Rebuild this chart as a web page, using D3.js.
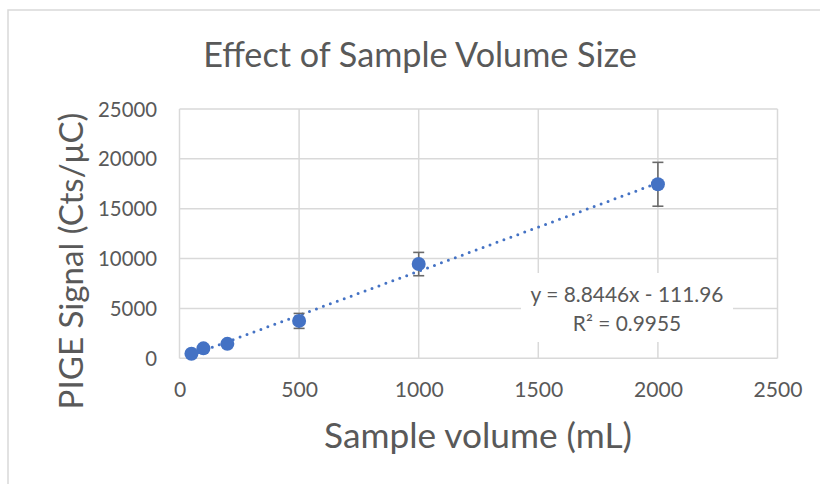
<!DOCTYPE html>
<html>
<head>
<meta charset="utf-8">
<script src="https://cdn.jsdelivr.net/npm/d3@7"></script>
<style>
  html, body { margin: 0; padding: 0; background: #fff; }
  svg { display: block; }
  text { font-family: Lato, "Open Sans", sans-serif; fill: #595959; }
</style>
</head>
<body>
<svg id="chart" width="820" height="484"></svg>
<script>
// ---- data ----
const volumes = [50, 100, 200, 500, 1000, 2000];
const signal = [450, 1000, 1450, 3750, 9450, 17450];
const errors = [80, 120, 160, 750, 1170, 2200];
const xTicks = [0, 500, 1000, 1500, 2000, 2500];
const yTicks = [0, 5000, 10000, 15000, 20000, 25000];
const trendSlope = 8.8446;
const trendIntercept = -111.96;
const titleText = "Effect of Sample Volume Size";
const xTitle = "Sample volume (mL)";
const yTitle = "PIGE Signal (Cts/\u03bcC)";
const eqLines = ["y = 8.8446x - 111.96", "R\u00b2 = 0.9955"];

(function () {
// ---- layout ----
const svg = d3.select("#chart");
const pL = 179.5, pR = 777.5, pT = 109, pB = 358.3;
const x = d3.scaleLinear().domain([0, 2500]).range([pL, pR]);
const y = d3.scaleLinear().domain([0, 25000]).range([pB, pT]);
const grid = "#d9d9d9", blue = "#4472C4", txt = "#595959";

function fit(sel, target) {
  sel.style("font-size", "20px");
  const w = sel.node().getComputedTextLength();
  sel.style("font-size", (20 * target / w) + "px");
  return sel;
}

// outer border
svg.append("rect").attr("x", 8).attr("y", 10).attr("width", 830).attr("height", 500)
  .attr("fill", "none").attr("stroke", grid).attr("stroke-width", 1.5);

// gridlines
svg.append("g").selectAll("line").data(yTicks).join("line")
  .attr("x1", pL).attr("x2", pR).attr("y1", d => y(d)).attr("y2", d => y(d))
  .attr("stroke", grid).attr("stroke-width", 1.5);
svg.append("g").selectAll("line").data(xTicks).join("line")
  .attr("x1", d => x(d)).attr("x2", d => x(d)).attr("y1", pT).attr("y2", pB)
  .attr("stroke", grid).attr("stroke-width", 1.5);

// axes (labels via d3 axes)
const xAxis = svg.append("g").attr("transform", `translate(0,${pB})`)
  .call(d3.axisBottom(x).tickValues(xTicks).tickSize(0).tickPadding(0).tickFormat(d3.format("d")));
xAxis.select(".domain").remove();
xAxis.selectAll("text").attr("dy", null).attr("y", 397 - pB)
  .style("font-family", "Lato").attr("fill", txt)
  .each(function(d) { fit(d3.select(this), 49 * String(d).length / 4); });

const yAxis = svg.append("g").attr("transform", `translate(157,0)`)
  .call(d3.axisLeft(y).tickValues(yTicks).tickSize(0).tickPadding(0).tickFormat(d3.format("d")));
yAxis.select(".domain").remove();
yAxis.selectAll("text").attr("dy", "0.35em").attr("x", 0)
  .style("font-family", "Lato").attr("fill", txt)
  .each(function(d) { fit(d3.select(this), 59 * String(d).length / 5); });

// trendline
const trend = [volumes[0], volumes[volumes.length - 1]].map(v => [v, trendSlope * v + trendIntercept]);
svg.append("path")
  .attr("d", d3.line().x(d => x(d[0])).y(d => y(d[1]))(trend))
  .attr("fill", "none").attr("stroke", blue).attr("stroke-width", 3)
  .attr("stroke-linecap", "round").attr("stroke-dasharray", "0 7.4");

// error bars
const eb = svg.append("g").attr("stroke", "#6a6a6a").attr("stroke-width", 1.6);
volumes.forEach((v, i) => {
  const cx = x(v), y1 = y(signal[i] + errors[i]), y2 = y(signal[i] - errors[i]);
  eb.append("line").attr("x1", cx).attr("x2", cx).attr("y1", y1).attr("y2", y2);
  eb.append("line").attr("x1", cx - 5.5).attr("x2", cx + 5.5).attr("y1", y1).attr("y2", y1);
  eb.append("line").attr("x1", cx - 5.5).attr("x2", cx + 5.5).attr("y1", y2).attr("y2", y2);
});

// markers
svg.append("g").selectAll("circle").data(volumes).join("circle")
  .attr("cx", d => x(d)).attr("cy", (d, i) => y(signal[i])).attr("r", 7)
  .attr("fill", blue);

// equation label
svg.append("rect").attr("x", 521).attr("y", 273).attr("width", 212).attr("height", 69).attr("fill", "#fff");
const e1 = svg.append("text").attr("x", 627).attr("y", 302).attr("text-anchor", "middle").text(eqLines[0]);
fit(e1, 193);
const e2 = svg.append("text").attr("x", 627).attr("y", 331).attr("text-anchor", "middle").text(eqLines[1]);
e2.style("font-size", e1.style("font-size"));

// titles
const t = svg.append("text").attr("x", 420).attr("y", 67).attr("text-anchor", "middle").text(titleText);
fit(t, 434);
const xt = svg.append("text").attr("x", 478).attr("y", 448).attr("text-anchor", "middle").text(xTitle);
fit(xt, 308);
const yt = svg.append("text").attr("transform", "translate(83,261) rotate(-90)").attr("text-anchor", "middle").text(yTitle);
fit(yt, 297);
})();
</script>
</body>
</html>
